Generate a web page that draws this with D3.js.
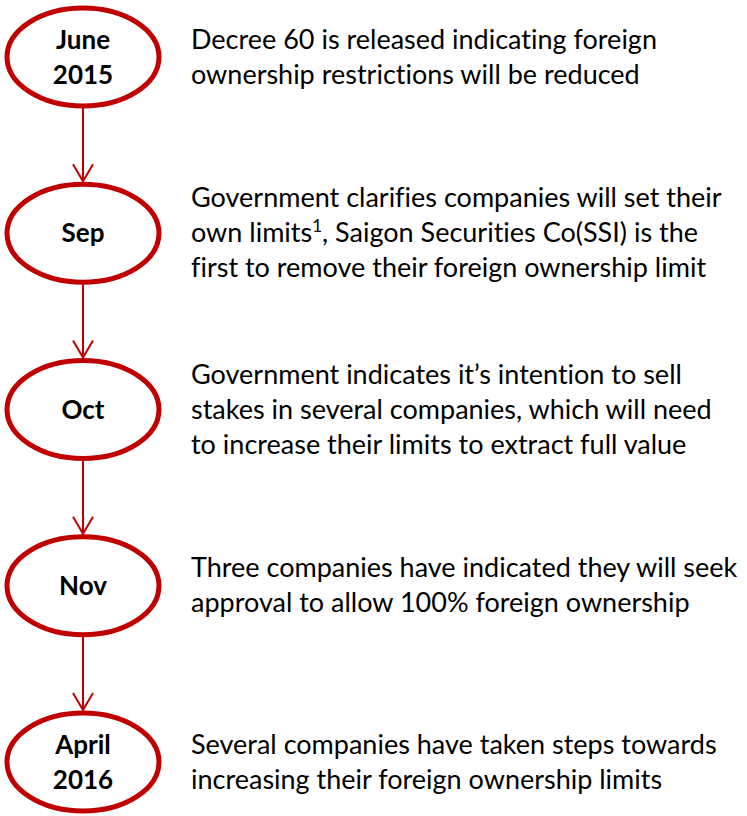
<!DOCTYPE html>
<html>
<head>
<meta charset="utf-8">
<script src="https://cdn.jsdelivr.net/npm/d3@7"></script>
<style>
  body { margin: 0; background: #fff; }
  svg { display: block; }
  text { font-variant-ligatures: none; font-feature-settings: "liga" 0, "clig" 0; }
</style>
</head>
<body>
<script>
// Timeline: when each step happened, and what happened
let periods = ["June 2015", "Sep", "Oct", "Nov", "April 2016"];

let periodLines = [
    ["June", "2015"],
    ["Sep"],
    ["Oct"],
    ["Nov"],
    ["April", "2016"]
];

// "^1" marks a superscript footnote
let eventLines = [
    ["Decree 60 is released indicating foreign",
     "ownership restrictions will be reduced"],
    ["Government clarifies companies will set their",
     "own limits^1, Saigon Securities Co(SSI) is the",
     "first to remove their foreign ownership limit"],
    ["Government indicates it\u2019s intention to sell",
     "stakes in several companies, which will need",
     "to increase their limits to extract full value"],
    ["Three companies have indicated they will seek",
     "approval to allow 100% foreign ownership"],
    ["Several companies have taken steps towards",
     "increasing their foreign ownership limits"]
];

let WIDTH = 747;
let HEIGHT = 816;
let RED = "#C00000";

let rx = 76, ry = 49;     // ellipse radii
let cx = 83;              // ellipse column
let textX = 191;          // description column
let lineH = 35;
let FONT = "Lato, 'Open Sans', sans-serif";

let y = d3.scalePoint()
    .domain(periods)
    .range([57, 762]);

let svg = d3.select("body").append("svg")
    .attr("width", WIDTH)
    .attr("height", HEIGHT);

// arrowhead (open V), drawn along +x so orient=auto turns it downwards
svg.append("defs").append("marker")
    .attr("id", "vee")
    .attr("viewBox", "0 0 20 24")
    .attr("refX", 18)
    .attr("refY", 12)
    .attr("markerWidth", 20)
    .attr("markerHeight", 24)
    .attr("markerUnits", "userSpaceOnUse")
    .attr("orient", "auto")
    .append("path")
        .attr("d", "M1,2 L18,12 L1,22")
        .attr("fill", "none")
        .attr("stroke", RED)
        .attr("stroke-width", 2);

// connectors between consecutive ellipses
let pairs = d3.pairs(periods);
svg.append("g")
    .attr("class", "arrows")
    .selectAll("line")
    .data(pairs)
    .enter()
    .append("line")
        .attr("x1", cx)
        .attr("x2", cx)
        .attr("y1", d => y(d[0]) + ry + 2)
        .attr("y2", d => y(d[1]) - ry - 3)
        .attr("stroke", RED)
        .attr("stroke-width", 2)
        .attr("marker-end", "url(#vee)");

let nodes = svg.append("g")
    .attr("class", "nodes")
    .selectAll("g")
    .data(periods)
    .enter()
    .append("g")
        .attr("transform", d => "translate(" + cx + "," + y(d) + ")");

nodes.append("ellipse")
    .attr("rx", rx)
    .attr("ry", ry)
    .attr("fill", "#fff")
    .attr("stroke", RED)
    .attr("stroke-width", 5);

nodes.append("text")
    .attr("text-anchor", "middle")
    .attr("font-family", FONT)
    .attr("font-weight", "bold")
    .attr("font-size", 26)
    .attr("fill", "#000")
    .each(function(d, i) {
        let lines = periodLines[i];
        let t = d3.select(this);
        lines.forEach((l, j) => {
            t.append("tspan")
                .attr("x", 0)
                .attr("y", (j - (lines.length - 1) / 2) * lineH + 9)
                .text(l);
        });
    });

// descriptions
let desc = svg.append("g")
    .attr("class", "descriptions")
    .selectAll("text")
    .data(periods)
    .enter()
    .append("text")
        .attr("font-family", FONT)
        .attr("font-size", 27)
        .attr("fill", "#000");

desc.each(function(d, i) {
    let lines = eventLines[i];
    let t = d3.select(this);
    lines.forEach((l, j) => {
        let ly = y(d) + (j - (lines.length - 1) / 2) * lineH + 9;
        let parts = l.split("^1");
        t.append("tspan")
            .attr("x", textX)
            .attr("y", ly)
            .text(parts[0]);
        if (parts.length > 1) {
            t.append("tspan")
                .attr("dy", -10)
                .attr("font-size", 17)
                .text("1");
            t.append("tspan")
                .attr("dy", 10)
                .text(parts[1]);
        }
    });
});
</script>
</body>
</html>
